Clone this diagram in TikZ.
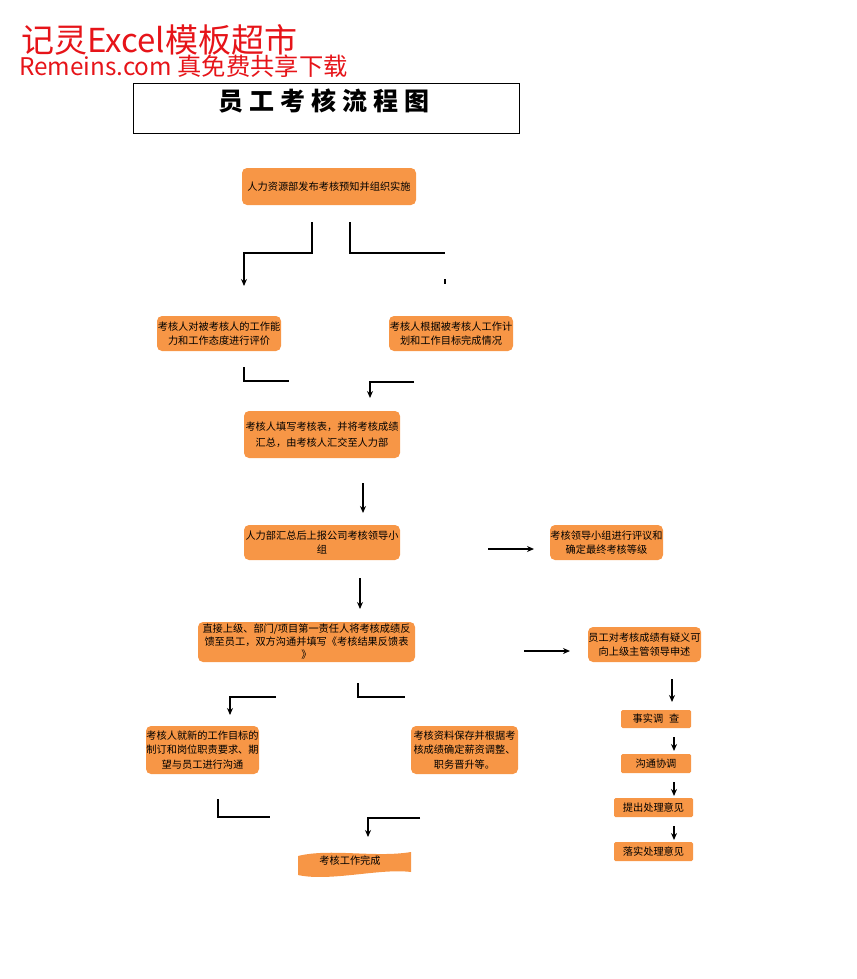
\documentclass[tikz,border=0pt]{standalone}
\usepackage{fontspec}
\setmainfont{Noto Sans CJK SC}
\usetikzlibrary{arrows.meta}
\definecolor{boxor}{RGB}{247,150,70}
\definecolor{wmred}{RGB}{230,20,25}
\tikzset{
  obox/.style={fill=boxor,draw=none,rounded corners=5pt,inner sep=0pt,align=center,
    font=\fontsize{10.2}{14.5}\selectfont,text=black},
  sbox/.style={obox,rounded corners=1.5pt},
  conn/.style={line width=2pt},
  arr/.style={conn,-{Stealth[length=7pt,width=6pt]}}
}
\begin{document}
\begin{tikzpicture}[x=1pt,y=-1pt]
\useasboundingbox (0,0) rectangle (856,979);
% watermark
\node[anchor=west,inner sep=0pt,text=wmred,font=\fontsize{33}{33}\selectfont] (wm1) at (21,40) {记灵Excel模板超市};
\node[anchor=west,inner sep=0pt,text=wmred,font=\fontsize{24.3}{24.3}\selectfont] (wm2) at (19,66) {Remeins.com 真免费共享下载};
% title
\node[draw=black,line width=0.8pt,minimum width=386pt,minimum height=50pt,inner sep=0pt] (titlebox) at (326,108) {};
\node[inner sep=0pt,font=\fontsize{25}{25}\selectfont\bfseries] (title) at (324,101) {员\hspace{6pt}工\hspace{6pt}考\hspace{6pt}核\hspace{6pt}流\hspace{6pt}程\hspace{6pt}图};
% boxes
\node[obox,minimum width=174pt,minimum height=37pt] (b1) at (329,186.5) {人力资源部发布考核预知并组织实施};
\node[obox,minimum width=124pt,minimum height=35pt] (b2) at (219,333.5) {考核人对被考核人的工作能\\力和工作态度进行评价};
\node[obox,minimum width=124pt,minimum height=35pt] (b3) at (451,333.5) {考核人根据被考核人工作计\\划和工作目标完成情况};
\node[obox,minimum width=156pt,minimum height=47pt,font=\fontsize{10.2}{16}\selectfont] (b4) at (322,434.5) {考核人填写考核表，并将考核成绩\\汇总，由考核人汇交至人力部};
\node[obox,minimum width=156pt,minimum height=35pt] (b5) at (322,542.5) {人力部汇总后上报公司考核领导小\\组};
\node[obox,minimum width=113pt,minimum height=35pt] (b6) at (606.5,542.5) {考核领导小组进行评议和\\确定最终考核等级};
\node[obox,minimum width=217pt,minimum height=40pt,font=\fontsize{10.2}{13}\selectfont] (b7) at (306.5,642) {直接上级、部门/项目第一责任人将考核成绩反\\馈至员工，双方沟通并填写《考核结果反馈表\\》};
\node[obox,minimum width=113pt,minimum height=35pt] (b8) at (644.5,644.5) {员工对考核成绩有疑义可\\向上级主管领导申述};
\node[obox,minimum width=113pt,minimum height=48pt,font=\fontsize{10.2}{14.5}\selectfont] (b9) at (202.5,750) {考核人就新的工作目标的\\制订和岗位职责要求、期\\望与员工进行沟通};
\node[obox,minimum width=107pt,minimum height=48pt,font=\fontsize{10.2}{14.5}\selectfont] (b10) at (464.5,750) {考核资料保存并根据考\\核成绩确定薪资调整、\\职务晋升等。};
\node[sbox,minimum width=70pt,minimum height=18pt] (s1) at (656,719) {事实调\hspace{6pt}查};
\node[sbox,minimum width=70pt,minimum height=19pt] (s2) at (656,763.5) {沟通协调};
\node[sbox,minimum width=79pt,minimum height=19pt] (s3) at (653.5,807.5) {提出处理意见};
\node[sbox,minimum width=79pt,minimum height=19pt] (s4) at (653.5,851.5) {落实处理意见};
% wavy end box
\fill[boxor] (298,856) .. controls (330,848) and (375,858) .. (411,852) -- (411,872) .. controls (380,868) and (330,882) .. (298,875) -- cycle;
\node[inner sep=0pt,font=\fontsize{10.2}{12}\selectfont] (done) at (350,861) {考核工作完成};
% connector points
\coordinate (p1a) at (312,222); \coordinate (p1b) at (312,253); \coordinate (p1c) at (244,253); \coordinate (p1d) at (244,286);
\coordinate (p2a) at (350,222); \coordinate (p2b) at (350,253); \coordinate (p2c) at (445,253);
\coordinate (p2t) at (445,279); \coordinate (p2u) at (445,284);
\coordinate (p3a) at (244,367); \coordinate (p3b) at (244,381); \coordinate (p3c) at (289,381);
\coordinate (p4a) at (414,382); \coordinate (p4b) at (370,382); \coordinate (p4c) at (370,398);
\coordinate (p5a) at (363,483); \coordinate (p5b) at (363,513);
\coordinate (p6a) at (488,549); \coordinate (p6b) at (534,549);
\coordinate (p7a) at (360,578); \coordinate (p7b) at (360,609);
\coordinate (p8a) at (524,651); \coordinate (p8b) at (570,651);
\coordinate (p9a) at (672,679); \coordinate (p9b) at (672,702);
\coordinate (q1a) at (674,737); \coordinate (q1b) at (674,751);
\coordinate (q2a) at (674,782); \coordinate (q2b) at (674,796);
\coordinate (q3a) at (674,826); \coordinate (q3b) at (674,840);
\coordinate (r1a) at (276,697); \coordinate (r1b) at (230,697); \coordinate (r1c) at (230,715);
\coordinate (r2a) at (358,683); \coordinate (r2b) at (358,697); \coordinate (r2c) at (405,697);
\coordinate (r3a) at (218,799); \coordinate (r3b) at (218,817); \coordinate (r3c) at (270,817);
\coordinate (r4a) at (420,818); \coordinate (r4b) at (368,818); \coordinate (r4c) at (368,837);
% connectors
\draw[arr] (p1a) -- (p1b) -- (p1c) -- (p1d);
\draw[conn] (p2a) -- (p2b) -- (p2c);
\draw[line width=1.2pt] (p2t) -- (p2u);
\draw[conn] (p3a) -- (p3b) -- (p3c);
\draw[arr] (p4a) -- (p4b) -- (p4c);
\draw[arr] (p5a) -- (p5b);
\draw[arr] (p6a) -- (p6b);
\draw[arr] (p7a) -- (p7b);
\draw[arr] (p8a) -- (p8b);
\draw[arr] (p9a) -- (p9b);
\draw[arr] (q1a) -- (q1b);
\draw[arr] (q2a) -- (q2b);
\draw[arr] (q3a) -- (q3b);
\draw[arr] (r1a) -- (r1b) -- (r1c);
\draw[conn] (r2a) -- (r2b) -- (r2c);
\draw[conn] (r3a) -- (r3b) -- (r3c);
\draw[arr] (r4a) -- (r4b) -- (r4c);
\end{tikzpicture}
\end{document}
